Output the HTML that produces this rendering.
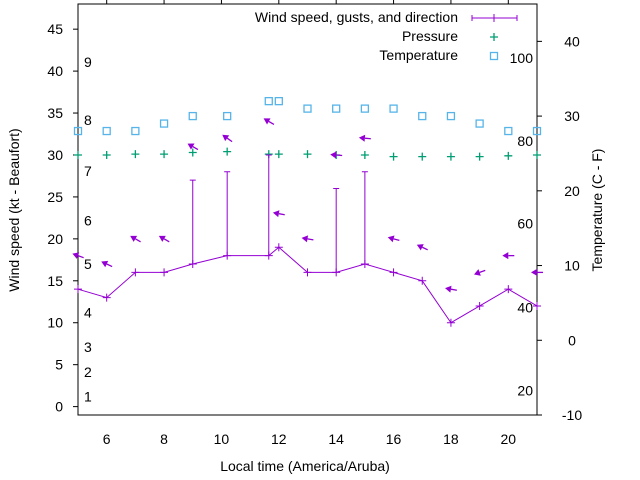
<!DOCTYPE html>
<html><head><meta charset="utf-8"><style>
html,body{margin:0;padding:0;background:#fff;width:640px;height:480px;overflow:hidden}
svg text{font-family:"Liberation Sans",sans-serif;font-size:14px;fill:#000}
</style></head><body>
<svg id="chart" width="640" height="480" xmlns="http://www.w3.org/2000/svg">
<g id="axes"></g>
<g id="marks"></g>
<g id="legend"></g>
</svg>
<script>
const hours    = [5,6,7,8,9,10.2,11.65,12,13,14,15,16,17,18,19,20,21];
const wind     = [14,13,16,16,17,18,18,19,16,16,17,16,15,10,12,14,12];
const gust     = [null,null,null,null,27,28,30,null,null,26,28,null,null,null,null,null,null];
const temp     = [28,28,28,29,30,30,32,32,31,31,31,31,30,30,29,28,28];
const pressure = [30.0,30.0,30.1,30.1,30.3,30.4,30.1,30.1,30.1,30.0,30.0,29.8,29.8,29.8,29.8,29.9,30.0];
const dirY     = [18,17,20,20,31,32,34,23,20,30,32,20,19,14,16,18,16];
const dirAngle = [160,155,150,150,150,145,150,170,170,175,175,165,155,170,200,180,180];
const xTicks   = [6,8,10,12,14,16,18,20];
const yTicks   = [0,5,10,15,20,25,30,35,40,45];
const y2Ticks  = [-10,0,10,20,30,40];
const beaufortLabels = ["1","2","3","4","5","6","7","8","9"];
const beaufortKt     = [1.2,4.1,7.1,11.2,17,22.2,28.1,34.2,41.1];
const fahrenheitLabels = ["20","40","60","80","100"];
const fahrenheitC      = [-6.7,4.4,15.6,26.7,37.8];

const L=78,R=537,T=4,B=415;
const X=h=>L+(h-5)/(21-5)*(R-L);
const Y=v=>B-(v-(-1))/(48-(-1))*(B-T);
const Y2=v=>B-(v-(-10))/(45-(-10))*(B-T);
const NS="http://www.w3.org/2000/svg";
function mk(parent,tag,attrs,txt){const e=document.createElementNS(NS,tag);for(const k in attrs)e.setAttribute(k,attrs[k]);if(txt!==undefined)e.textContent=txt;parent.appendChild(e);return e;}
const axes=document.getElementById('axes'),marks=document.getElementById('marks'),legend=document.getElementById('legend');

let e=mk(axes,'rect',{x:L,y:T,width:R-L,height:B-T,fill:'none',stroke:'#000','stroke-width':1});

xTicks.forEach(t=>{
  const x=X(t);
  let l=mk(axes,'line',{x1:x,y1:T,x2:x,y2:T-5,stroke:'#000'});
  
  let tx=mk(axes,'text',{x:x,y:444,'text-anchor':'middle'},String(t));
  
});
yTicks.forEach(t=>{
  const y=Y(t);
  let l=mk(axes,'line',{x1:L-5,y1:y,x2:L,y2:y,stroke:'#000'});
  
  let tx=mk(axes,'text',{x:63,y:y+5,'text-anchor':'end'},String(t));
  
});
y2Ticks.forEach(t=>{
  const y=Y2(t);
  let l=mk(axes,'line',{x1:R,y1:y,x2:R+5,y2:y,stroke:'#000'});
  
  let tx=mk(axes,'text',{x:572,y:y+5,'text-anchor':'middle'},String(t));
  
});
beaufortLabels.forEach((s,i)=>{
  let tx=mk(axes,'text',{x:84,y:Y(beaufortKt[i])+5},s);
  
});
fahrenheitLabels.forEach((s,i)=>{
  let tx=mk(axes,'text',{x:533,y:Y2(fahrenheitC[i])+5,'text-anchor':'end'},s);
  
});
e=mk(axes,'text',{x:0,y:0,'text-anchor':'middle',transform:'translate(19,210) rotate(-90)'},'Wind speed (kt - Beaufort)');

e=mk(axes,'text',{x:0,y:0,'text-anchor':'middle',transform:'translate(602,210) rotate(-90)'},'Temperature (C - F)');

e=mk(axes,'text',{x:305,y:471,'text-anchor':'middle'},'Local time (America/Aruba)');


const purple='#9400d3',green='#009e73',blue='#56b4e9';
hours.forEach((h,i)=>{
  let r=mk(marks,'rect',{x:X(h)-3.5,y:Y2(temp[i])-3.5,width:7,height:7,fill:'none',stroke:blue,'stroke-width':1.3});
  
});
hours.forEach((h,i)=>{
  const x=X(h),y=Y(pressure[i]);
  let p=mk(marks,'path',{d:`M${x-4},${y}H${x+4}M${x},${y-4}V${y+4}`,stroke:green,'stroke-width':1.3});
  
});
let d=hours.map((h,i)=>(i?'L':'M')+X(h)+','+Y(wind[i])).join('');
e=mk(marks,'path',{d:d,fill:'none',stroke:purple,'stroke-width':1});

hours.forEach((h,i)=>{
  const x=X(h),y=Y(wind[i]);
  let p=mk(marks,'path',{d:`M${x-4},${y}H${x+4}M${x},${y-4}V${y+4}`,stroke:purple,'stroke-width':1});
  
  if(gust[i]!==null){
    const g=Y(gust[i]);
    let b=mk(marks,'path',{d:`M${x},${y}V${g}M${x-3},${g}H${x+3}`,stroke:purple,'stroke-width':1});
    
  }
});
hours.forEach((h,i)=>{
  const cx=X(h),cy=Y(dirY[i]),a=dirAngle[i]*Math.PI/180,len=12;
  const ux=Math.cos(a),uy=-Math.sin(a);
  const tx=cx+ux*len/2,ty=cy+uy*len/2,sx=cx-ux*len/2,sy=cy-uy*len/2;
  const hx=tx-ux*6,hy=ty-uy*6,px=-uy,py=ux;
  let g=mk(marks,'g',{});
  
  mk(g,'line',{x1:sx,y1:sy,x2:hx,y2:hy,stroke:purple,'stroke-width':1.3});
  mk(g,'polygon',{points:`${tx},${ty} ${hx+px*3.5},${hy+py*3.5} ${hx-px*3.5},${hy-py*3.5}`,fill:purple});
});
e=mk(legend,'text',{x:458,y:22,'text-anchor':'end'},'Wind speed, gusts, and direction');

e=mk(legend,'path',{d:'M472,18H517M472,15V21M517,15V21M494,14V22',stroke:purple,'stroke-width':1,fill:'none'});

e=mk(legend,'text',{x:458,y:41,'text-anchor':'end'},'Pressure');

e=mk(legend,'path',{d:'M490,37H498M494,33V41',stroke:green,'stroke-width':1.3});

e=mk(legend,'text',{x:458,y:60,'text-anchor':'end'},'Temperature');

e=mk(legend,'rect',{x:490.5,y:52.5,width:7,height:7,fill:'none',stroke:blue,'stroke-width':1.3});

</script>
</body></html>
